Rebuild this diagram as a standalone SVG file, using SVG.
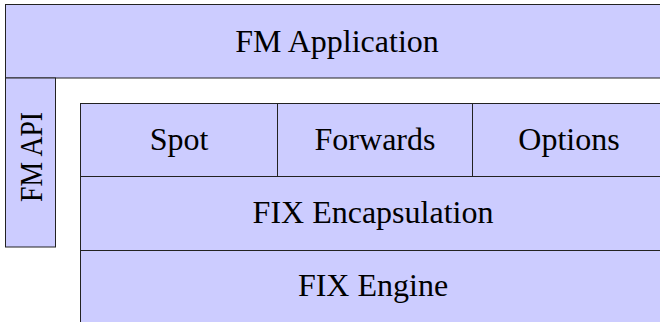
<svg xmlns="http://www.w3.org/2000/svg" width="660" height="322" viewBox="0 0 660 322">
  <style>
    .box { fill: #ccccff; stroke: #222; stroke-width: 1; }
    .lbl { font-family: "Liberation Serif", "Times New Roman", serif; font-size: 32px; fill: #000; text-anchor: middle; }
  </style>
  <rect width="660" height="322" fill="#fff"/>
  <g id="fm-application">
    <rect class="box" x="5.5" y="4.5" width="670" height="73.5"/>
    <text class="lbl" x="337" y="52">FM Application</text>
  </g>
  <g id="fm-api">
    <rect class="box" x="5.5" y="78" width="50" height="169"/>
    <text class="lbl" transform="translate(42 157) rotate(-90)" x="0" y="0" textLength="90" lengthAdjust="spacingAndGlyphs">FM API</text>
  </g>
  <g id="spot">
    <rect class="box" x="80.5" y="103.5" width="197" height="73"/>
    <text class="lbl" x="179" y="150">Spot</text>
  </g>
  <g id="forwards">
    <rect class="box" x="277.5" y="103.5" width="195" height="73"/>
    <text class="lbl" x="375" y="150">Forwards</text>
  </g>
  <g id="options">
    <rect class="box" x="472.5" y="103.5" width="200" height="73"/>
    <text class="lbl" x="569" y="150">Options</text>
  </g>
  <g id="fix-encapsulation">
    <rect class="box" x="80.5" y="176.5" width="600" height="74"/>
    <text class="lbl" x="373" y="223">FIX Encapsulation</text>
  </g>
  <g id="fix-engine">
    <rect class="box" x="80.5" y="250.5" width="600" height="80"/>
    <text class="lbl" x="373" y="296">FIX Engine</text>
  </g>
  <g id="connectors"/>
</svg>
